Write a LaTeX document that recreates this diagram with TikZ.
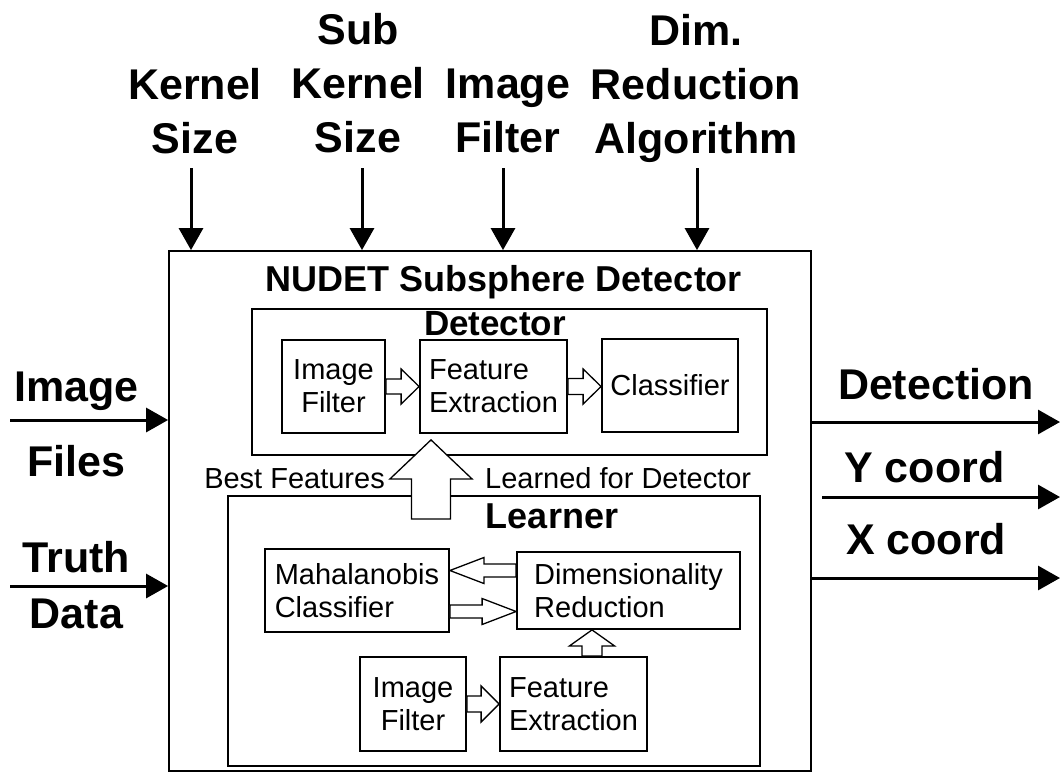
\documentclass[tikz,border=0pt]{standalone}
\usepackage{fontspec}
\setmainfont{Liberation Sans}
\usetikzlibrary{arrows.meta,positioning,calc}

% hollow block arrow: start, tip, shaft half width, head half width, head length
\newcommand{\fatarrow}[5]{%
  \path (#1) coordinate (fa-a) (#2) coordinate (fa-b);
  \coordinate (fa-h) at ($(fa-b)!#5!(fa-a)$);
  \draw [hollow] ($(fa-a)!#3!90:(fa-b)$) -- ($(fa-h)!#3!90:(fa-b)$) -- ($(fa-h)!#4!90:(fa-b)$) -- (fa-b)
    -- ($(fa-h)!#4!-90:(fa-b)$) -- ($(fa-h)!#3!-90:(fa-b)$) -- ($(fa-a)!#3!-90:(fa-b)$) -- cycle;
}

\begin{document}
\begin{tikzpicture}[x=1pt,y=-1pt,node distance=160pt]

\tikzstyle{frame}=[draw=black,line width=1.8pt,inner sep=0pt]
\tikzstyle{box}=[draw=black,line width=1.8pt,inner sep=0pt,align=center,font=\fontsize{29}{33}\selectfont]
\tikzstyle{title}=[anchor=base,inner sep=0pt,font=\fontsize{36}{40}\selectfont\bfseries]
\tikzstyle{param}=[align=center,inner sep=0pt,font=\fontsize{43}{54}\selectfont\bfseries]
\tikzstyle{io}=[line width=3pt,-{Triangle[length=22pt,width=24pt]}]
\tikzstyle{iolabel}=[inner sep=0pt,font=\fontsize{43}{54}\selectfont\bfseries]
\tikzstyle{note}=[inner sep=0pt,font=\fontsize{29}{33}\selectfont]
\tikzstyle{hollow}=[draw=black,fill=white,line width=1.3pt,line join=miter]

\useasboundingbox (0,0) rectangle (1060,772);

%outer system box
\node [frame,minimum width=642pt,minimum height=520pt] (nudet) at (490,511) {};
\node [title] (nudett) at (504,291) {NUDET Subsphere Detector};

%detector
\node [frame,minimum width=515pt,minimum height=146pt] (det) at (509.5,382) {};
\node [title,font=\fontsize{35}{40}\selectfont\bfseries] (dett) at (495,335.5) {Detector};
\node [box,minimum width=103pt,minimum height=93pt] (detif) at (333.5,386.5) {Image\\Filter};
\node [box,align=left,minimum width=147pt,minimum height=93pt] (detfe) [right of=detif] {Feature\\Extraction};
\node [box,minimum width=136pt,minimum height=93pt,node distance=176.5pt] (detcl) [right of=detfe,yshift=1pt] {Classifier};

\fatarrow{detif.east}{detfe.west}{7.5pt}{17.5pt}{18pt}
\fatarrow{detfe.east}{detfe.east -| detcl.west}{8pt}{17.5pt}{18pt}

%learner
\node [frame,minimum width=532pt,minimum height=270pt] (lrn) at (494,631) {};
\node [title] (lrnt) at (552,528) {Learner};
\node [box,align=left,minimum width=184pt,minimum height=83pt] (lrnmc) at (357,590.5) {Mahalanobis\\Classifier};
\node [box,align=left,minimum width=223pt,minimum height=77pt,node distance=271.5pt] (lrndr) [right of=lrnmc] {Dimensionality\\Reduction};
\node [box,minimum width=106pt,minimum height=94pt] (lrnif) at (413,704) {Image\\Filter};
\node [box,align=left,minimum width=147pt,minimum height=94pt,node distance=160.5pt] (lrnfe) [right of=lrnif] {Feature\\Extraction};

\fatarrow{$(lrndr.west)+(0pt,20pt)$}{$(lrnmc.east)+(0pt,20pt)$}{6.5pt}{13pt}{34pt}
\fatarrow{$(lrnmc.east)+(0pt,-21pt)$}{$(lrndr.west)+(0pt,-21pt)$}{6.5pt}{13pt}{34pt}
\fatarrow{lrnif.east}{lrnfe.west}{8pt}{18pt}{18pt}
\coordinate (drin) at ($(lrnfe.north)+(18.5pt,0pt)$);
\fatarrow{drin}{drin |- lrndr.south}{10pt}{22.5pt}{16pt}

%learned features handed to the detector
\coordinate (bestsrc) at (431,519);
\fatarrow{bestsrc}{$(bestsrc |- detfe.south)+(0pt,-6pt)$}{19.5pt}{41pt}{39pt}
\node [note,anchor=base east] (bestl) at (385,488.4) {Best Features};
\node [note,anchor=base west] (bestr) at (485,488.4) {Learned for Detector};

%parameters
\node [param] (ks) at (195,111) {Kernel\\Size};
\node [param] (sks) at (358,83) {Sub\\Kernel\\Size};
\node [param] (ifp) at (508,111) {Image\\Filter};
\node [param] (dra) at (696,88) {Dim.\\Reduction\\Algorithm};

\foreach \p/\x in {ks/191,sks/362,ifp/503,dra/697} {
  \coordinate (\p-in) at (\x,168);
  \draw [io] (\p-in) -- (\p-in |- nudet.north);
}

%inputs
\coordinate (imgin) at (10,420);
\draw [io] (imgin) -- node[iolabel,above=7.5pt,pos=0.42] (imgl) {Image}
                      node[iolabel,below=24pt,pos=0.42] (filesl) {Files} (imgin -| nudet.west);
\coordinate (truthin) at (10,586);
\draw [io] (truthin) -- node[iolabel,above=12pt,pos=0.42] (truthl) {Truth}
                        node[iolabel,below=11pt,pos=0.42] (datal) {Data} (truthin -| nudet.west);

%outputs
\coordinate (detout) at (1060,422);
\draw [io] (detout -| nudet.east) -- node[iolabel,above=21pt] (detl) {Detection} (detout);
\coordinate (yin) at (822,497);
\coordinate (yout) at (1060,497);
\draw [io] (yin) -- node[iolabel,above=13pt,pos=0.43] (yl) {Y coord} (yout);
\coordinate (xout) at (1060,578);
\draw [io] (xout -| nudet.east) -- node[iolabel,above=22pt,pos=0.46] (xl) {X coord} (xout);

\end{tikzpicture}
\end{document}
